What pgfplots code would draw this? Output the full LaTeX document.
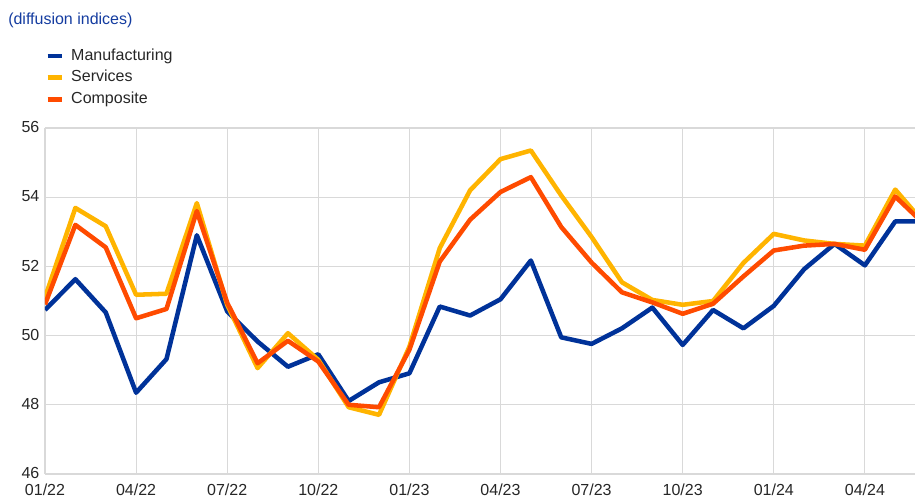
\documentclass[border=0pt]{standalone}
\usepackage{pgfplots}
\pgfplotsset{compat=1.18}
\usepackage{fontspec}
\setmainfont{Liberation Sans}
\definecolor{manu}{RGB}{0,50,153}
\definecolor{serv}{RGB}{255,180,0}
\definecolor{comp}{RGB}{255,75,0}
\definecolor{titleblue}{RGB}{20,60,160}
\definecolor{txt}{RGB}{38,38,38}
\definecolor{gridc}{RGB}{217,217,217}
\begin{document}
\begin{tikzpicture}
\path[use as bounding box] (-33.75pt,-19.5pt) rectangle (652.5pt,355.5pt);
\begin{axis}[
  scale only axis, width=652.5pt, height=259.5pt,
  anchor=south west, at={(0,0)},
  xmin=0, xmax=28.65, ymin=46, ymax=56,
  xtick={0,3,...,27},
  xticklabels={01/22,04/22,07/22,10/22,01/23,04/23,07/23,10/23,01/24,04/24},
  ytick={46,48,...,56},
  major tick length=0pt,
  axis line style={draw=none},
  grid=major,
  major grid style={draw=gridc, line width=0.8pt},
  /pgf/number format/assume math mode=true,
  tick label style={font=\fontsize{12}{14}\selectfont, text=txt},
  yticklabel style={xshift=-3pt, yshift=0.5pt, inner sep=1pt},
  xticklabel style={yshift=-6.5pt, inner sep=1pt},
  legend style={at={(0,1)}, anchor=north west, xshift=0pt, yshift=62pt,
    draw=none, fill=none, inner sep=0pt,
    font=\fontsize{12}{14}\selectfont, text=txt,
    nodes={inner sep=2pt, text height=9pt, text depth=2.5pt},
    row sep=0.8pt},
  legend cell align=left,
  legend image code/.code={\draw[#1, line width=3.5pt] (0pt,0pt) -- (10.5pt,0pt); \path (14pt,0pt);},
  every axis plot/.append style={line width=3.4pt, line join=round},
]
\addplot[color=manu] coordinates {
(0,50.74) (1,51.63) (2,50.67) (3,48.35) (4,49.32) (5,52.90) (6,50.70) (7,49.83) (8,49.10) (9,49.46)
(10,48.11) (11,48.65) (12,48.91) (13,50.84) (14,50.58) (15,51.05) (16,52.17) (17,49.95) (18,49.76) (19,50.21)
(20,50.81) (21,49.73) (22,50.74) (23,50.21) (24,50.86) (25,51.92) (26,52.65) (27,52.03) (28,53.30) (29,53.30)};
\addlegendentry{Manufacturing}
\addplot[color=serv] coordinates {
(0,51.10) (1,53.69) (2,53.16) (3,51.18) (4,51.21) (5,53.83) (6,50.89) (7,49.06) (8,50.07) (9,49.30)
(10,47.93) (11,47.71) (12,49.68) (13,52.53) (14,54.20) (15,55.10) (16,55.35) (17,54.05) (18,52.85) (19,51.54)
(20,51.03) (21,50.89) (22,51.00) (23,52.10) (24,52.94) (25,52.75) (26,52.65) (27,52.60) (28,54.22) (29,53.20)};
\addlegendentry{Services}
\addplot[color=comp] coordinates {
(0,50.90) (1,53.20) (2,52.55) (3,50.50) (4,50.77) (5,53.60) (6,50.95) (7,49.20) (8,49.85) (9,49.25)
(10,48.00) (11,47.93) (12,49.59) (13,52.14) (14,53.35) (15,54.15) (16,54.58) (17,53.14) (18,52.11) (19,51.25)
(20,50.96) (21,50.63) (22,50.92) (23,51.71) (24,52.46) (25,52.60) (26,52.65) (27,52.48) (28,54.02) (29,53.18)};
\addlegendentry{Composite}
\end{axis}
\node[anchor=west, text=titleblue, font=\fontsize{12}{14}\selectfont, inner sep=0pt] at (-27.75pt,340.5pt) {(diffusion indices)};
\end{tikzpicture}
\end{document}
